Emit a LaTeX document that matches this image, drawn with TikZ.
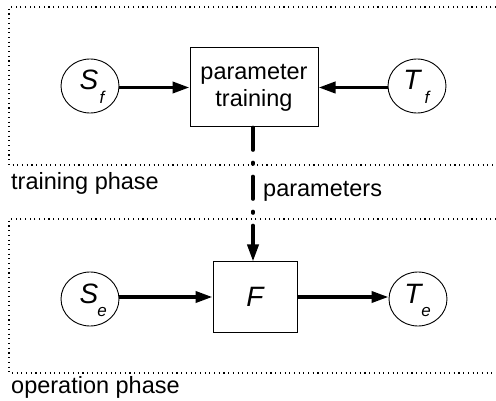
\documentclass[tikz,border=0pt]{standalone}
\usepackage{fontspec}
\setmainfont{Liberation Sans}
\usetikzlibrary{arrows.meta,shapes.geometric}
\begin{document}
\begin{tikzpicture}[x=1pt,y=-1pt,
  phase/.style={line width=1.1pt, dash pattern=on 1.1pt off 3.6pt},
  circ/.style={draw, line width=0.9pt, ellipse, minimum width=58pt, minimum height=54pt, inner sep=0pt},
  blk/.style={draw, line width=1pt, inner sep=0pt, align=center},
  flow/.style={line width=3.6pt, -{Triangle[length=17pt,width=11pt]}},
  lbl/.style={font=\fontsize{23.5}{27}\selectfont, inner sep=0pt},
  sym/.style={font=\fontsize{28}{30}\selectfont\itshape, inner sep=0pt},
  sub/.style={font=\fontsize{17}{18}\selectfont\itshape, inner sep=0pt}
]
\useasboundingbox (0,0) rectangle (496,401);
\draw[phase] (496,7) -| (9,165) -- (496,165);
\draw[phase] (496,219) -| (9,373) -- (496,373);

\node[circ] (Sf) at (90,86) {};
\node[circ] (Tf) at (417,86) {};
\node[circ] (Se) at (90,299) {};
\node[circ] (Te) at (418,299) {};
\node[sym] (Sfs) at (89,80) {S};
\node[sub] (Sff) at (102,97) {f};
\node[sym] (Tfs) at (412,80) {T};
\node[sub] (Tff) at (427,97) {f};
\node[sym] (Ses) at (89,294) {S};
\node[sub] (See) at (102,312) {e};
\node[sym] (Tes) at (413,294) {T};
\node[sub] (Tee) at (426,312) {e};

\node[blk, minimum width=128pt, minimum height=79pt, font=\fontsize{23.5}{27}\selectfont] (PT) at (254,87.5) {parameter\\training};
\node[blk, minimum width=84pt, minimum height=70pt, font=\fontsize{28}{30}\selectfont\itshape] (F) at (255,297) {F};

\draw[flow] (Sf.east |- PT) -- (PT.west);
\draw[flow] (Tf.west |- PT) -- (PT.east);
\draw[flow] (Se.east |- F) -- (F.west);
\draw[flow] (F.east) -- (Te.west |- F);

\draw[line width=3.6pt, line cap=round, dash pattern=on 22.5pt off 12.5pt on 1.5pt off 12.5pt, -{Triangle[length=17pt,width=11pt]}] (PT.south -| 253,0) -- (F.north -| 253,0);

\node[lbl, anchor=base west] (tp) at (11,190) {training phase};
\node[lbl, anchor=base west] (pa) at (263,197) {parameters};
\node[lbl, anchor=base west] (op) at (11,393) {operation phase};
\end{tikzpicture}
\end{document}
